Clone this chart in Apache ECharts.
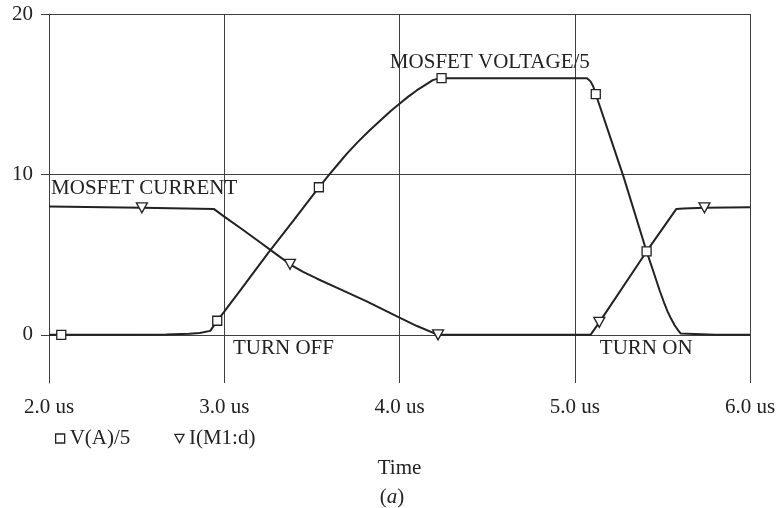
<!DOCTYPE html>
<html>
<head>
<meta charset="utf-8">
<script src="https://cdn.jsdelivr.net/npm/echarts@6/dist/echarts.min.js"></script>
<style>
  html, body { margin: 0; padding: 0; background: #fff; }
  #chart { width: 784px; height: 508px; }
</style>
</head>
<body>
<div id="chart"></div>
<script>
// MOSFET switching transient: drain voltage (scaled by 1/5) and drain current vs time (us)
const vTime = [2.0, 2.07, 2.3, 2.5, 2.67, 2.8, 2.86, 2.92, 2.96, 3.0, 3.1, 3.25, 3.4, 3.54, 3.6, 3.65, 3.7, 3.76, 3.83, 3.9, 3.95, 4.0, 4.05, 4.1, 4.15, 4.19, 4.22, 4.24, 4.5, 4.8, 5.0, 5.07, 5.09, 5.105, 5.12, 5.2, 5.28, 5.41, 5.45, 5.485, 5.51, 5.53, 5.55, 5.57, 5.59, 5.605, 5.615, 5.8, 6.0];
const vVal  = [0, 0, 0, 0.01, 0.03, 0.07, 0.12, 0.25, 0.88, 1.45, 2.9, 5.1, 7.2, 9.2, 10.0, 10.65, 11.3, 12.0, 12.75, 13.45, 13.95, 14.4, 14.85, 15.25, 15.6, 15.88, 15.97, 16.0, 16.0, 16.0, 16.0, 16.0, 15.8, 15.5, 15.0, 12.4, 9.8, 5.2, 3.9, 2.75, 2.0, 1.45, 1.0, 0.6, 0.28, 0.08, 0, 0, 0];
const vMarkIdx = [1, 8, 13, 27, 34, 37];

const iTime = [2.0, 2.53, 2.94, 3.0, 3.1, 3.2, 3.3, 3.375, 3.45, 3.53, 3.66, 3.81, 4.0, 4.1, 4.22, 4.6, 5.0, 5.09, 5.14, 5.41, 5.58, 5.62, 5.74, 6.0];
const iVal  = [8.0, 7.92, 7.85, 7.37, 6.6, 5.8, 5.0, 4.4, 3.93, 3.5, 2.85, 2.1, 1.07, 0.55, 0, 0, 0, 0, 0.78, 5.2, 7.85, 7.88, 7.92, 7.95];
const iMarkIdx = [1, 7, 14, 18, 22];

const xTicks = [2, 3, 4, 5, 6];
const yTicks = [0, 10, 20];
const seriesNames = ['V(A)/5', 'I(M1:d)'];

// annotation texts with their anchor positions in data units [time, value]
const notes = [
  { text: 'MOSFET CURRENT',   at: [2.012, 9.15] },
  { text: 'MOSFET VOLTAGE/5', at: [3.945, 17.0] },
  { text: 'TURN OFF',         at: [3.05, -0.85] },
  { text: 'TURN ON',          at: [5.143, -0.85] }
];

const FONT = '"Liberation Serif", "Times New Roman", serif';
const INK = '#222';
const RULE = '#3f3f3f';

function buildData(ts, vs, marks, symbol) {
  return ts.map((t, k) => {
    const item = { value: [t, vs[k]] };
    if (marks.indexOf(k) >= 0) item.symbol = symbol;
    return item;
  });
}

const chart = echarts.init(document.getElementById('chart'), null, { renderer: 'canvas' });

const markerStyle = { color: '#fff', borderColor: INK, borderWidth: 1.3 };

chart.setOption({
  animation: false,
  backgroundColor: '#fff',
  grid: { left: 49, top: 14, right: 34, bottom: 125, show: false },
  legend: {
    left: 50, top: 423,
    itemWidth: 9, itemHeight: 9, itemGap: 44,
    textStyle: { fontFamily: FONT, fontSize: 21, color: INK },
    data: [
      { name: seriesNames[0], icon: 'rect', itemStyle: markerStyle },
      { name: seriesNames[1], icon: 'path://M0,0 L10,0 L5,9 Z', itemStyle: markerStyle }
    ]
  },
  xAxis: {
    type: 'value', min: xTicks[0], max: xTicks[xTicks.length - 1], interval: 1,
    name: 'Time', nameLocation: 'middle', nameGap: 75,
    nameTextStyle: { fontFamily: FONT, fontSize: 21, color: INK },
    axisLine: { show: true, lineStyle: { color: RULE, width: 1 } },
    axisTick: { show: true, length: 8, lineStyle: { color: RULE } },
    axisLabel: {
      margin: 14, fontFamily: FONT, fontSize: 21, color: INK,
      formatter: v => v.toFixed(1) + ' us'
    },
    splitLine: { show: true, lineStyle: { color: RULE, width: 1 } }
  },
  yAxis: {
    type: 'value', min: -3, max: 20,
    axisLine: { show: true, lineStyle: { color: RULE, width: 1 } },
    axisTick: { show: true, length: 8, customValues: yTicks, lineStyle: { color: RULE } },
    axisLabel: { margin: 16, fontFamily: FONT, fontSize: 21, color: INK, customValues: yTicks },
    splitLine: { show: true, lineStyle: { color: RULE, width: 1 } }
  },
  series: [
    {
      name: seriesNames[0], type: 'line',
      data: buildData(vTime, vVal, vMarkIdx, 'rect'),
      symbol: 'none', showSymbol: true, showAllSymbol: true,
      symbolSize: 9, itemStyle: markerStyle,
      lineStyle: { color: INK, width: 2 }, z: 3
    },
    {
      name: seriesNames[1], type: 'line',
      data: buildData(iTime, iVal, iMarkIdx, 'triangle'),
      symbol: 'none', showSymbol: true, showAllSymbol: true,
      symbolSize: [11, 10], symbolRotate: 180, itemStyle: markerStyle,
      lineStyle: { color: INK, width: 2 }, z: 3
    }
  ]
});

// place annotations through the axes' own scales
const g = notes.map(n => {
  const p = chart.convertToPixel({ gridIndex: 0 }, n.at);
  return {
    type: 'text', x: p[0], y: p[1],
    style: { text: n.text, fontFamily: FONT, fontSize: 21, fill: INK, align: 'left', verticalAlign: 'middle' },
    z: 10
  };
});
g.push({
  type: 'text', left: 'center', top: 487,
  style: {
    text: '{n|(}{i|a}{n|)}',
    rich: {
      n: { fontFamily: FONT, fontSize: 21, fill: INK },
      i: { fontFamily: FONT, fontSize: 21, fontStyle: 'italic', fill: INK }
    }
  }
});
chart.setOption({ graphic: g });
</script>
</body>
</html>
